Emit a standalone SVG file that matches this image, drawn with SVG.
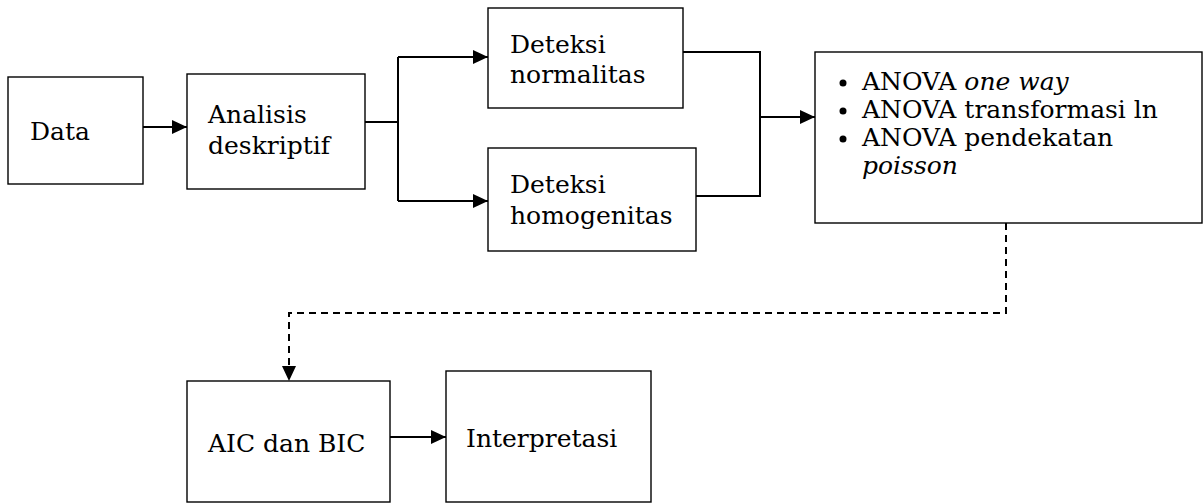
<svg xmlns="http://www.w3.org/2000/svg" width="1203" height="504" viewBox="0 0 1203 504">
<style>
.box{fill:#fff;stroke:#000;stroke-width:1.4}
.t{font-family:"DejaVu Serif","Liberation Serif",serif;font-size:25px;fill:#000}
.i{font-style:italic}
.c{fill:none;stroke:#000;stroke-width:2}
.d{fill:none;stroke:#000;stroke-width:2;stroke-dasharray:7 5}
</style>
<defs>
<marker id="ah" viewBox="0 0 15 14" refX="15" refY="7" markerWidth="15" markerHeight="14" markerUnits="userSpaceOnUse" orient="auto">
<path d="M0,0 L15,7 L0,14 Z" fill="#000"/>
</marker>
</defs>
<rect width="1203" height="504" fill="#fff"/>
<g id="connectors">
<path class="c" d="M143,127 H187" marker-end="url(#ah)"/>
<path class="c" d="M365,122 H398"/>
<path class="c" d="M398,57 V201"/>
<path class="c" d="M398,57 H488" marker-end="url(#ah)"/>
<path class="c" d="M398,201 H488" marker-end="url(#ah)"/>
<path class="c" d="M683,52 H760 V196 H696"/>
<path class="c" d="M760,117 H815" marker-end="url(#ah)"/>
<path class="d" d="M1006,223 V313 H289 V381" marker-end="url(#ah)"/>
<path class="c" d="M390,437 H446" marker-end="url(#ah)"/>
</g>
<g id="data">
<rect class="box" x="8" y="77" width="135" height="107"/>
<text class="t" x="30" y="140">Data</text>
</g>
<g id="analisis">
<rect class="box" x="187" y="74" width="178" height="115"/>
<text class="t" x="208" y="123">Analisis</text>
<text class="t" x="208" y="154">deskriptif</text>
</g>
<g id="normalitas">
<rect class="box" x="488" y="8" width="195" height="100"/>
<text class="t" x="510" y="53">Deteksi</text>
<text class="t" x="510" y="83">normalitas</text>
</g>
<g id="homogenitas">
<rect class="box" x="488" y="148" width="208" height="103"/>
<text class="t" x="510" y="193">Deteksi</text>
<text class="t" x="510" y="224">homogenitas</text>
</g>
<g id="anova">
<rect class="box" x="815" y="52" width="387" height="171"/>
<circle cx="843" cy="83" r="3.5"/>
<circle cx="843" cy="111" r="3.5"/>
<circle cx="843" cy="139" r="3.5"/>
<text class="t" x="862" y="90">ANOVA <tspan class="i">one way</tspan></text>
<text class="t" x="862" y="118">ANOVA transformasi ln</text>
<text class="t" x="862" y="146">ANOVA pendekatan</text>
<text class="t i" x="862" y="174">poisson</text>
</g>
<g id="aic">
<rect class="box" x="187" y="381" width="203" height="121"/>
<text class="t" x="208" y="452">AIC dan BIC</text>
</g>
<g id="interpretasi">
<rect class="box" x="446" y="371" width="205" height="131"/>
<text class="t" x="466" y="447">Interpretasi</text>
</g>
</svg>
